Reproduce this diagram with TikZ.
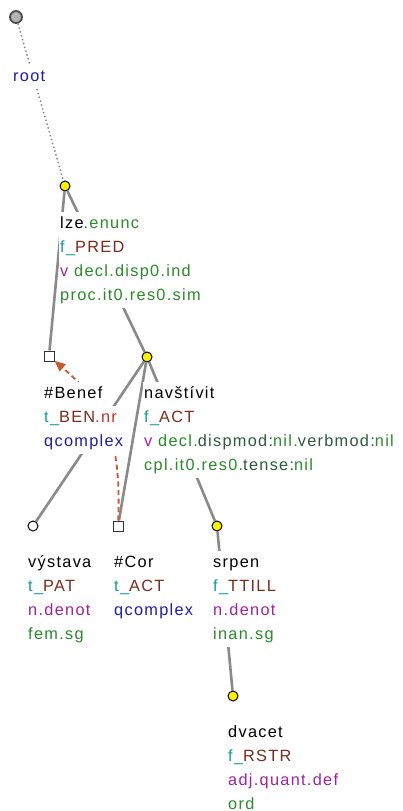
\documentclass[tikz,border=0pt]{standalone}
\usepackage{fontspec}
\setmainfont{Liberation Sans}[LetterSpace=8]
\usepackage{xcolor}
\usepackage{tikz}
\usetikzlibrary{arrows.meta, positioning, backgrounds}
\definecolor{funccol}{HTML}{119A9A}
\definecolor{rolecol}{HTML}{7A2C1E}
\definecolor{nrcol}{HTML}{C0322A}
\definecolor{quantcol}{HTML}{1E1EA0}
\definecolor{poscol}{HTML}{A021A0}
\definecolor{gramcol}{HTML}{2B8A2B}
\definecolor{attrcol}{HTML}{2D5A3C}
\definecolor{edgecol}{HTML}{8A8A8A}
\definecolor{corefcol}{HTML}{C8592F}

\begin{document}
\begin{tikzpicture}[
    x=1pt, y=-1pt,
    edge/.style={draw=edgecol, line width=2.6pt},
    rootedge/.style={draw=gray, line width=1.4pt, dash pattern=on 1.4pt off 2.6pt},
    coref/.style={draw=corefcol, line width=1.8pt, dash pattern=on 5pt off 3.5pt, -{Triangle[length=11pt,width=9pt]}},
    rootnode/.style={circle, draw=black!70, fill=gray!60, line width=1.8pt, minimum size=12pt, inner sep=0pt},
    tnode/.style={circle, draw=black, fill=yellow, line width=1pt, minimum size=10pt, inner sep=0pt},
    plainnode/.style={circle, draw=black, fill=white, line width=1pt, minimum size=10pt, inner sep=0pt},
    gennode/.style={rectangle, draw=black!80, fill=white, line width=1pt, minimum size=10pt, inner sep=0pt},
    lbl/.style={anchor=base west, inner sep=1pt, text height=15pt, text depth=7pt, fill=white, font=\fontsize{16.3}{18}\selectfont}
]
    \useasboundingbox (0,0) rectangle (402,811);

    % tree nodes
    \node[rootnode] (root) at (16,17) {};
    \node[tnode] (lze) at (65,186) {};
    \node[gennode] (benef) at (49,356) {};
    \node[tnode] (visit) at (147,357) {};
    \node[plainnode] (vystava) at (33,526) {};
    \node[gennode] (cor) at (118,526) {};
    \node[tnode] (srpen) at (217,526) {};
    \node[tnode] (dvacet) at (233,696) {};

    % edges
    \begin{scope}[on background layer]
        \fill[white] (0,0) rectangle (402,811);
        \draw[rootedge] (root) -- (lze);
        \draw[edge] (lze) -- (benef);
        \draw[edge] (lze) -- (visit);
        \draw[edge] (visit) -- (vystava);
        \draw[edge] (visit) -- (cor);
        \draw[edge] (visit) -- (srpen);
        \draw[edge] (srpen) -- (dvacet);
        \draw[coref] (cor) .. controls (122,430) and (100,400) .. (benef);
    \end{scope}

    % labels
    \node[lbl] (root-1) at (12,81) {\textcolor{quantcol}{root}};

    \node[lbl] (lze-1) at (59,228) {lze\textcolor{gramcol}{.enunc}};
    \node[lbl] (lze-2) at (59,252) {\textcolor{funccol}{f\_}\textcolor{rolecol}{PRED}};
    \node[lbl] (lze-3) at (59,276) {\textcolor{poscol}{v} \textcolor{gramcol}{decl.disp0.ind}};
    \node[lbl] (lze-4) at (59,300) {\textcolor{gramcol}{proc.it0.res0.sim}};

    \node[lbl] (benef-1) at (43,398) {\#Benef};
    \node[lbl] (benef-2) at (43,422) {\textcolor{funccol}{t\_}\textcolor{rolecol}{BEN}\textcolor{nrcol}{.nr}};
    \node[lbl] (benef-3) at (43,446) {\textcolor{quantcol}{qcomplex}};

    \node[lbl] (visit-1) at (143,398) {navštívit};
    \node[lbl] (visit-2) at (143,422) {\textcolor{funccol}{f\_}\textcolor{rolecol}{ACT}};
    \node[lbl] (visit-3) at (143,446) {\textcolor{poscol}{v} \textcolor{gramcol}{decl.}\textcolor{attrcol}{dispmod:}\textcolor{gramcol}{nil.}\textcolor{attrcol}{verbmod:}\textcolor{gramcol}{nil}};
    \node[lbl] (visit-4) at (143,470) {\textcolor{gramcol}{cpl.it0.res0.}\textcolor{attrcol}{tense:}\textcolor{gramcol}{nil}};

    \node[lbl] (vystava-1) at (27,567) {výstava};
    \node[lbl] (vystava-2) at (27,591) {\textcolor{funccol}{t\_}\textcolor{rolecol}{PAT}};
    \node[lbl] (vystava-3) at (27,615) {\textcolor{poscol}{n.denot}};
    \node[lbl] (vystava-4) at (27,639) {\textcolor{gramcol}{fem.sg}};

    \node[lbl] (cor-1) at (113,567) {\#Cor};
    \node[lbl] (cor-2) at (113,591) {\textcolor{funccol}{t\_}\textcolor{rolecol}{ACT}};
    \node[lbl] (cor-3) at (113,615) {\textcolor{quantcol}{qcomplex}};

    \node[lbl] (srpen-1) at (212,567) {srpen};
    \node[lbl] (srpen-2) at (212,591) {\textcolor{funccol}{f\_}\textcolor{rolecol}{TTILL}};
    \node[lbl] (srpen-3) at (212,615) {\textcolor{poscol}{n.denot}};
    \node[lbl] (srpen-4) at (212,639) {\textcolor{gramcol}{inan.sg}};

    \node[lbl] (dvacet-1) at (227,737) {dvacet};
    \node[lbl] (dvacet-2) at (227,761) {\textcolor{funccol}{f\_}\textcolor{rolecol}{RSTR}};
    \node[lbl] (dvacet-3) at (227,785) {\textcolor{poscol}{adj.quant.def}};
    \node[lbl] (dvacet-4) at (227,809) {\textcolor{gramcol}{ord}};
\end{tikzpicture}
\end{document}
